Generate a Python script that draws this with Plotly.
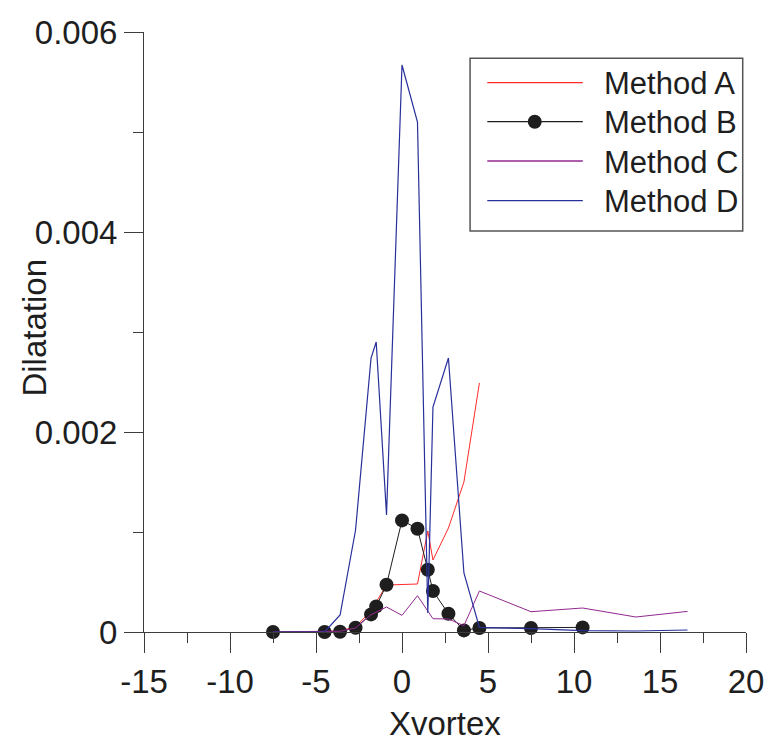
import plotly.graph_objects as go

# ---- data ----
x_a = [-7.5, -4.5, -3.6, -2.7, -1.8, -1.5, -0.9, 0.0, 0.9, 1.5, 1.8, 2.7, 3.6, 4.5]
y_a = [0.0, 0.000003, 0.00001, 0.000053, 0.00021, 0.0003, 0.00047, 0.000475, 0.00048,
       0.00101, 0.00072, 0.00104, 0.0015, 0.00249]

x_b = [-7.5, -4.5, -3.6, -2.7, -1.8, -1.5, -0.9, 0.0, 0.9, 1.5, 1.8, 2.7, 3.6, 4.5, 7.5, 10.5]
y_b = [0.0, 0.0, 0.000003, 0.000043, 0.000176, 0.000256, 0.000473, 0.001116, 0.001033,
       0.000623, 0.00041, 0.000183, 0.000016, 0.00004, 0.00004, 0.000046]

x_c = [-7.5, -4.5, -3.6, -2.7, -1.8, -0.9, 0.0, 0.9, 1.8, 2.7, 3.6, 4.5, 7.5, 10.5, 13.6, 16.6]
y_c = [0.0, 0.000002, 0.000008, 0.00004, 0.000173, 0.00025, 0.000166, 0.000363, 0.000133,
       0.00013, 0.000063, 0.00041, 0.000203, 0.00024, 0.00015, 0.000206]

x_d = [-7.5, -4.5, -3.6, -2.7, -1.8, -1.5, -0.9, 0.0, 0.9, 1.5, 1.8, 2.7, 3.6, 4.5,
       7.5, 10.5, 13.6, 16.6]
y_d = [0.0, 0.0, 0.00017, 0.00102, 0.00274, 0.0029, 0.00117, 0.00567, 0.0051, 0.00019,
       0.00225, 0.00274, 0.00059, 0.000046, 0.000033, 0.000013, 0.00001, 0.00002]

series_names = ["Method A", "Method B", "Method C", "Method D"]
series_colors = ["#ff2a2a", "#1e1e1e", "#922890", "#28309a"]

y_tickvals = [0, 0.002, 0.004, 0.006]
y_ticktext = ["0", "0.002", "0.004", "0.006"]
x_tickvals = [-15, -10, -5, 0, 5, 10, 15, 20]
x_ticktext = ["-15", "-10", "-5", "0", "5", "10", "15", "20"]

FONT = "Liberation Sans, Arial, sans-serif"
W, H = 776, 745
ML, MR, MT, MB = 144, 27, 32, 113
PW, PH = W - ML - MR, H - MT - MB


def px(xp):
    return (xp - ML) / PW


def py(yp):
    return (H - MB - yp) / PH


fig = go.Figure()
fig.add_trace(go.Scatter(x=x_a, y=y_a, mode="lines", name=series_names[0],
                         line=dict(color=series_colors[0], width=1)))
fig.add_trace(go.Scatter(x=x_b, y=y_b, mode="lines+markers", name=series_names[1],
                         line=dict(color=series_colors[1], width=1),
                         marker=dict(color=series_colors[1], size=14), cliponaxis=False))
fig.add_trace(go.Scatter(x=x_c, y=y_c, mode="lines", name=series_names[2],
                         line=dict(color=series_colors[2], width=1)))
fig.add_trace(go.Scatter(x=x_d, y=y_d, mode="lines", name=series_names[3],
                         line=dict(color=series_colors[3], width=1.2)))

axis_col = "#3c3c3c"
fig.update_xaxes(range=[-15, 20], showgrid=False, zeroline=False, showline=True,
                 linecolor=axis_col, linewidth=1, ticks="outside", ticklen=20,
                 tickcolor=axis_col, tickwidth=1, tickmode="array",
                 tickvals=x_tickvals, ticktext=x_ticktext,
                 tickfont=dict(family=FONT, size=33, color="#1e1e1e"),
                 minor=dict(ticks="outside", ticklen=10, tickcolor=axis_col,
                            tick0=-15, dtick=2.5, showgrid=False))
fig.update_yaxes(range=[0, 0.006], showgrid=False, zeroline=False, showline=True,
                 linecolor=axis_col, linewidth=1, ticks="outside", ticklen=19,
                 tickcolor=axis_col, tickwidth=1, tickmode="array",
                 tickvals=y_tickvals, ticktext=y_ticktext,
                 tickfont=dict(family=FONT, size=33, color="#1e1e1e"),
                 minor=dict(ticks="outside", ticklen=10, tickcolor=axis_col,
                            tick0=0, dtick=0.001, showgrid=False))

# axis titles
annotations = [
    dict(text="Xvortex", x=px(446), y=py(723), xref="paper", yref="paper",
         showarrow=False, xanchor="center", yanchor="middle",
         font=dict(family=FONT, size=33, color="#1e1e1e")),
    dict(text="Dilatation", x=px(33), y=py(328), xref="paper", yref="paper",
         showarrow=False, xanchor="center", yanchor="middle", textangle=-90,
         font=dict(family=FONT, size=33, color="#1e1e1e")),
]

# legend (drawn manually to match the long sample lines)
shapes = [dict(type="rect", xref="paper", yref="paper",
               x0=px(471.7), x1=px(745.7), y0=py(58.3), y1=py(231),
               line=dict(color="#555555", width=1.5), fillcolor="white", layer="above")]
rows = [82.7, 121.7, 161.0, 200.7]
for i, (name, col) in enumerate(zip(series_names, series_colors)):
    yy = rows[i]
    shapes.append(dict(type="line", xref="paper", yref="paper",
                       x0=px(489), x1=px(585), y0=py(yy), y1=py(yy),
                       line=dict(color=col, width=1.3), layer="above"))
    annotations.append(dict(text=name, x=px(604), y=py(yy + 1), xref="paper", yref="paper",
                            showarrow=False, xanchor="left", yanchor="middle",
                            font=dict(family=FONT, size=31, color="#1e1e1e")))
r = 7
shapes.append(dict(type="circle", xref="paper", yref="paper",
                   x0=px(536.7 - r), x1=px(536.7 + r), y0=py(rows[1] + r), y1=py(rows[1] - r),
                   fillcolor=series_colors[1], line=dict(color=series_colors[1], width=0),
                   layer="above"))

fig.update_layout(width=W, height=H, margin=dict(l=ML, r=MR, t=MT, b=MB),
                  plot_bgcolor="white", paper_bgcolor="white", showlegend=False,
                  shapes=shapes, annotations=annotations,
                  font=dict(family=FONT, color="#1e1e1e"))

fig.write_html("out.html")
